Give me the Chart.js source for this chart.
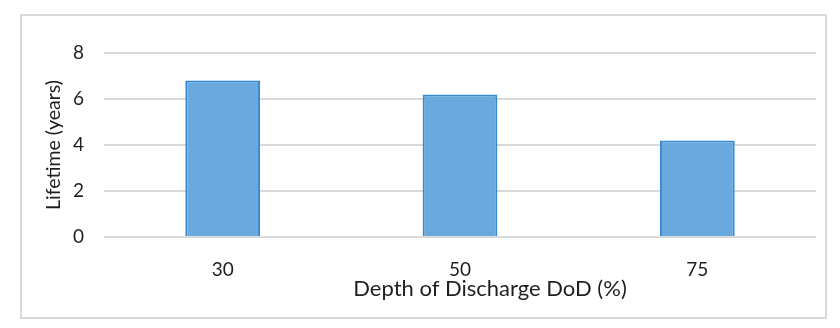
<!DOCTYPE html>
<html>
<head>
<meta charset="utf-8">
<script src="https://cdn.jsdelivr.net/npm/chart.js@4"></script>
<style>
  html, body { margin: 0; padding: 0; background: #fff; }
  #wrap { position: relative; width: 840px; height: 328px; }
</style>
</head>
<body>
<div id="wrap"><canvas id="lifetimeChart"></canvas></div>
<script>
// Lifetime vs depth of discharge
const depthLabels = ['30', '50', '75'];
const lifetimeYears = [6.8, 6.2, 4.2];
const yTicks = [0, 2, 4, 6, 8];
const xTitle = 'Depth of Discharge DoD (%)';
const yTitle = 'Lifetime (years)';

const textColor = '#1f1f1f';
const gridColor = '#d9d9d9';
const fontFamily = "Lato, 'Open Sans', sans-serif";

// grey frame around the whole chart
const frame = {
  id: 'frame',
  beforeDraw(chart) {
    const ctx = chart.ctx;
    ctx.save();
    ctx.fillStyle = '#ffffff';
    ctx.fillRect(0, 0, chart.width, chart.height);
    ctx.strokeStyle = '#d9d9d9';
    ctx.lineWidth = 2;
    ctx.strokeRect(21, 15, 805, 303);
    ctx.restore();
  }
};

// x axis title sits a bit right of the plot centre in the original
const xTitlePlugin = {
  id: 'xTitle',
  afterDraw(chart) {
    const ctx = chart.ctx;
    const area = chart.chartArea;
    ctx.save();
    ctx.font = '22px ' + fontFamily;
    ctx.fillStyle = textColor;
    ctx.textAlign = 'center';
    ctx.textBaseline = 'middle';
    ctx.fillText(xTitle, (area.left + area.right) / 2 + 30, area.bottom + 52);
    ctx.restore();
  }
};

new Chart(document.getElementById('lifetimeChart'), {
  type: 'bar',
  data: {
    labels: depthLabels,
    datasets: [{
      label: yTitle,
      data: lifetimeYears,
      backgroundColor: '#6aa9dd',
      borderColor: '#3589d3',
      borderWidth: 2,
      barPercentage: 0.315,
      categoryPercentage: 1
    }]
  },
  options: {
    responsive: true,
    maintainAspectRatio: false,
    animation: false,
    layout: { padding: { left: 0, right: 24, top: 53, bottom: 0 } },
    plugins: {
      legend: { display: false },
      tooltip: { enabled: false }
    },
    scales: {
      x: {
        grid: { display: false },
        border: { display: false },
        ticks: {
          color: textColor,
          padding: 13,
          font: { family: fontFamily, size: 19 }
        },
        afterFit(scale) { scale.height = 91; }
      },
      y: {
        min: 0,
        max: 8,
        afterBuildTicks(scale) { scale.ticks = yTicks.map(v => ({ value: v })); },
        grid: { color: gridColor, lineWidth: 2, drawTicks: false },
        border: { display: false },
        ticks: {
          color: textColor,
          padding: 20,
          font: { family: fontFamily, size: 19 }
        },
        title: {
          display: true,
          text: yTitle,
          color: textColor,
          font: { family: fontFamily, size: 19.5 },
          padding: { top: 42, bottom: 0 }
        },
        afterFit(scale) { scale.width = 104; }
      }
    }
  },
  plugins: [frame, xTitlePlugin]
});
</script>
</body>
</html>
